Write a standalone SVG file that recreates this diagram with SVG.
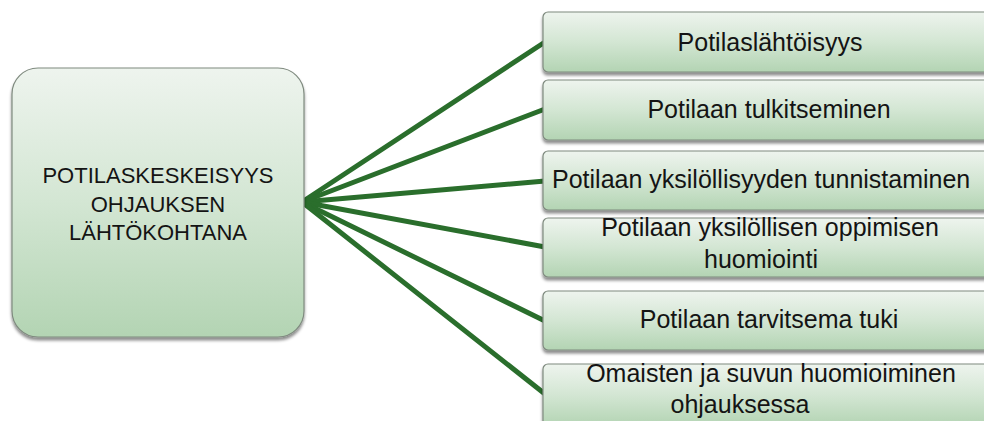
<svg xmlns="http://www.w3.org/2000/svg" width="984" height="421" viewBox="0 0 984 421">
  <defs>
    <linearGradient id="fill-green" x1="0" y1="0" x2="0" y2="1">
      <stop offset="0" stop-color="#eef4ee"/>
      <stop offset="0.5" stop-color="#d3e6d3"/>
      <stop offset="1" stop-color="#b3d4b3"/>
    </linearGradient>
    <filter id="shadow" x="-10%" y="-10%" width="120%" height="130%">
      <feDropShadow dx="0" dy="3" stdDeviation="1.8" flood-color="#000" flood-opacity="0.45"/>
    </filter>
  </defs>
  <style>
    .box { fill: url(#fill-green); stroke: #7f8a7f; stroke-width: 1.2; filter: url(#shadow); }
    .link { stroke: #2a6e2c; stroke-width: 5; stroke-linecap: round; fill: none; }
    .label { font-family: "Liberation Sans", Arial, sans-serif; font-size: 25px; fill: #141414; text-anchor: middle; }
    .title { font-family: "Liberation Sans", Arial, sans-serif; font-size: 22px; fill: #141414; text-anchor: middle; }
  </style>

  <rect width="984" height="421" fill="#ffffff"/>

  <!-- connectors fanning out from the main node -->
  <g id="connectors">
    <line class="link" x1="302" y1="202" x2="545" y2="42"/>
    <line class="link" x1="302" y1="202" x2="545" y2="109"/>
    <line class="link" x1="302" y1="202" x2="545" y2="181"/>
    <line class="link" x1="302" y1="202" x2="545" y2="247"/>
    <line class="link" x1="302" y1="202" x2="545" y2="321"/>
    <line class="link" x1="302" y1="202" x2="545" y2="394"/>
  </g>

  <!-- main node -->
  <g id="node-main">
    <rect class="box" x="12" y="68" width="292" height="269" rx="26" ry="26"/>
    <text class="title" x="158" y="183">POTILASKESKEISYYS</text>
    <text class="title" x="158" y="212">OHJAUKSEN</text>
    <text class="title" x="158" y="240">LÄHTÖKOHTANA</text>
  </g>

  <!-- child nodes -->
  <g id="node-1">
    <rect class="box" x="543" y="12" width="456" height="60" rx="5" ry="5"/>
    <text class="label" x="770" y="51">Potilaslähtöisyys</text>
  </g>
  <g id="node-2">
    <rect class="box" x="543" y="80" width="456" height="60" rx="5" ry="5"/>
    <text class="label" x="769" y="118">Potilaan tulkitseminen</text>
  </g>
  <g id="node-3">
    <rect class="box" x="543" y="151" width="456" height="59" rx="5" ry="5"/>
    <text class="label" x="552" y="188" style="text-anchor:start">Potilaan yksilöllisyyden tunnistaminen</text>
  </g>
  <g id="node-4">
    <rect class="box" x="543" y="218" width="456" height="59" rx="5" ry="5"/>
    <text class="label" x="770" y="236">Potilaan yksilöllisen oppimisen</text>
    <text class="label" x="761" y="268">huomiointi</text>
  </g>
  <g id="node-5">
    <rect class="box" x="543" y="291" width="456" height="59" rx="5" ry="5"/>
    <text class="label" x="769" y="328">Potilaan tarvitsema tuki</text>
  </g>
  <g id="node-6">
    <rect class="box" x="543" y="364" width="456" height="62" rx="5" ry="5"/>
    <text class="label" x="771" y="382">Omaisten ja suvun huomioiminen</text>
    <text class="label" x="740" y="413">ohjauksessa</text>
  </g>
</svg>
